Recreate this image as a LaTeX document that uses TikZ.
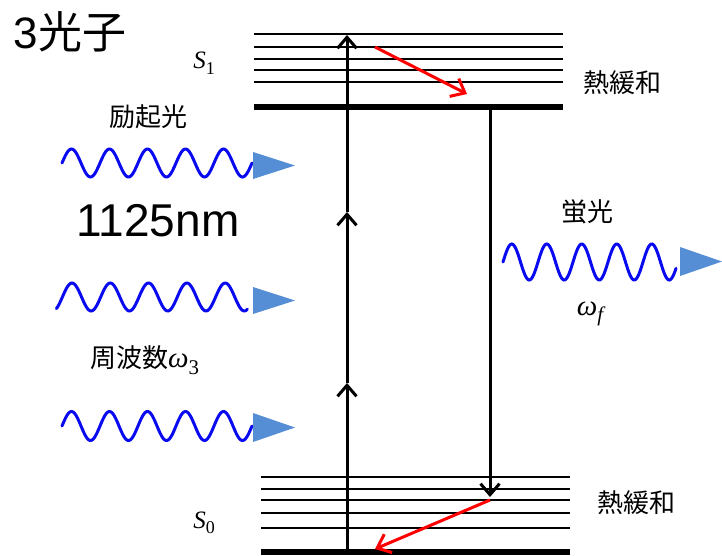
\documentclass[tikz,border=0pt]{standalone}
\usepackage{fontspec}
\setmainfont{Liberation Sans}
\newfontfamily\jp{Noto Sans CJK JP}
\newfontfamily\mathlike{Liberation Serif}
\usetikzlibrary{arrows.meta}
\definecolor{wavec}{RGB}{10,10,240}
\definecolor{tric}{RGB}{85,142,213}
\newcommand{\symsub}[4]{{\mathlike\fontsize{#3}{#3}\selectfont\itshape #1\raisebox{-0.22em}{\fontsize{0.72\dimexpr#3pt\relax}{#3}\selectfont#4#2}}}
\tikzset{
  thinlevel/.style={line width=1.6pt},
  thicklevel/.style={line width=5.5pt},
  trans/.style={line width=3pt, -{Straight Barb[length=11pt,width=19pt]}},
  relax/.style={line width=3pt, red, -{Straight Barb[length=12pt,width=20pt]}},
  wave/.style={line width=3pt, wavec, line cap=round},
  tri/.style={fill=tric, draw=none},
  jplabel/.style={font=\jp\fontsize{26}{30}\selectfont, inner sep=0pt},
  mlabel/.style={inner sep=0pt},
}
\begin{document}
\begin{tikzpicture}[x=1pt,y=-1pt]
\useasboundingbox (0,0) rectangle (722,555);
% upper levels S1
\foreach \yy in {34,47,59,70,82} \draw[thinlevel] (254,\yy) -- (563,\yy);
\draw[thicklevel] (254,107) -- (563,107);
% lower levels S0
\foreach \yy in {477,489,500,513,528} \draw[thinlevel] (261,\yy) -- (570,\yy);
\draw[thicklevel] (261,552) -- (570,552);
% coordinates
\coordinate (u0) at (347,552);
\coordinate (u1) at (347,383);
\coordinate (u2) at (347,212);
\coordinate (u3) at (347,35);
\coordinate (d0) at (490,107);
\coordinate (d1) at (490,497);
\coordinate (r0) at (375,47);
\coordinate (r1) at (467,94);
\coordinate (r2) at (490,500);
\coordinate (r3) at (375,549);
% excitation
\draw[trans] (u0) -- (u1);
\draw[trans] (u1) -- (u2);
\draw[trans] (u2) -- (u3);
% fluorescence
\draw[trans] (d0) -- (d1);
% relaxation
\draw[relax] (r0) -- (r1);
\draw[relax] (r2) -- (r3);
% waves
\draw[wave] plot[domain=0:190, samples=160, smooth] ({62+\x}, {163-14*sin(\x/38*360)});
\fill[tri] (253,152) -- (295,165.5) -- (253,179) -- cycle;
\draw[wave] plot[domain=-6:185, samples=160, smooth] ({62.4+\x}, {297-14*sin(\x/38.3*360)});
\fill[tri] (253,287) -- (295,300.5) -- (253,314) -- cycle;
\draw[wave] plot[domain=0:190, samples=160, smooth] ({62+\x}, {426-14.5*sin(\x/38*360)});
\fill[tri] (253,413) -- (295,427.5) -- (253,442) -- cycle;
\draw[wave] plot[domain=0:173, samples=160, smooth] ({503+\x}, {262-18*sin(\x/35*360)});
\fill[tri] (680,247) -- (722,261.5) -- (680,276) -- cycle;
% labels
\node[inner sep=0pt, font=\fontsize{44}{50}\selectfont] (title) at (70,32) {3{\jp 光子}};
\node[mlabel] (s1) at (204,63) {\symsub{S}{1}{25}{\upshape}};
\node[mlabel] (s0) at (204,523) {\symsub{S}{0}{25}{\upshape}};
\node[jplabel] (exc) at (148,117) {励起光};
\node[inner sep=0pt, font=\fontsize{46}{50}\selectfont] (wl) at (158,221) {1125nm};
\node[jplabel, anchor=west] (freq) at (90,360) {周波数\symsub{ω}{3}{29}{\upshape}};
\node[jplabel] (fl) at (587,212) {蛍光};
\node[mlabel] (wf) at (590,314) {\symsub{ω}{f}{29}{\itshape}};
\node[jplabel] (th1) at (622,83) {熱緩和};
\node[jplabel] (th0) at (636,503) {熱緩和};
\end{tikzpicture}
\end{document}
